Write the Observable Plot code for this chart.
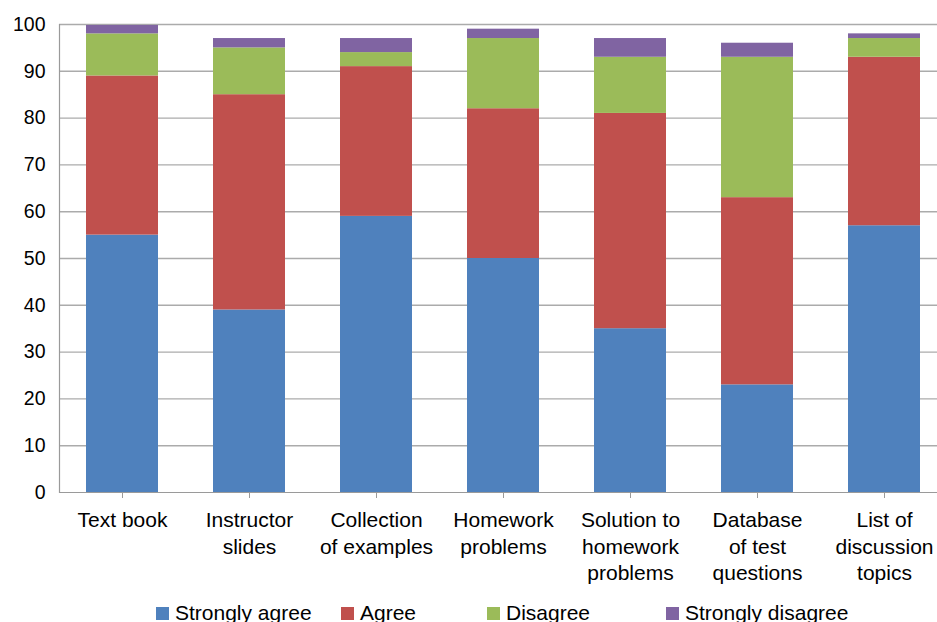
<!DOCTYPE html>
<html>
<head>
<meta charset="utf-8">
<script src="https://cdn.jsdelivr.net/npm/d3@7"></script>
<script src="https://cdn.jsdelivr.net/npm/@observablehq/plot@0.6"></script>
<style>
  html, body { margin: 0; padding: 0; overflow: hidden; background: #fff; }
  #wrap { position: relative; width: 937px; height: 622px; overflow: hidden; }
  #legend { position: absolute; top: 603px; left: 0; width: 937px; height: 20px;
            font-family: "Liberation Sans", Arial, sans-serif; font-size: 21px; color: #000; }
  .item { position: absolute; top: 0; display: flex; align-items: center; white-space: nowrap; line-height: 20px; height: 20px; }
  .sw { width: 13px; height: 13px; margin-right: 6px; }
</style>
</head>
<body>
<div id="wrap"><div id="chart"></div><div id="legend"></div></div>
<script>
const categories = ["Text book", "Instructor slides", "Collection of examples", "Homework problems",
  "Solution to homework problems", "Database of test questions", "List of discussion topics"];
const tickLabels = ["Text book", "Instructor\nslides", "Collection\nof examples", "Homework\nproblems",
  "Solution to\nhomework\nproblems", "Database\nof test\nquestions", "List of\ndiscussion\ntopics"];
const series = ["Strongly agree", "Agree", "Disagree", "Strongly disagree"];
const stronglyAgree    = [55, 39, 59, 50, 35, 23, 57];
const agree            = [34, 46, 32, 32, 46, 40, 36];
const disagree         = [9, 10, 3, 15, 12, 30, 4];
const stronglyDisagree = [1.8, 2, 3, 2, 4, 3, 1];
const colors = ["#4F81BD", "#C0504D", "#9BBB59", "#8064A2"];
const yTicks = [0, 10, 20, 30, 40, 50, 60, 70, 80, 90, 100];

const valuesBySeries = [stronglyAgree, agree, disagree, stronglyDisagree];
const rows = [];
series.forEach((s, si) => categories.forEach((c, ci) => rows.push({category: c, series: s, value: valuesBySeries[si][ci]})));

const chart = Plot.plot({
  width: 937,
  height: 596,
  marginLeft: 59,
  marginRight: 0,
  marginTop: 24,
  marginBottom: 104,
  style: {fontFamily: "'Liberation Sans', Arial, sans-serif", fontSize: "19.5px", color: "#000", background: "#fff"},
  x: {domain: categories, range: [59, 948], paddingInner: 0.433, paddingOuter: 0.2165, label: null},
  y: {domain: [0, 100], label: null},
  color: {domain: series, range: colors},
  marks: [
    Plot.ruleY(yTicks.filter(d => d > 0), {stroke: "#ababab", strokeWidth: 1.4}),
    Plot.barY(rows, {x: "category", y: "value", fill: "series"}),
    Plot.ruleY([0], {stroke: "#9a9a9a", strokeWidth: 1.2}),
    Plot.frame({anchor: "left", stroke: "#9a9a9a", strokeWidth: 1.2}),
    Plot.axisY({ticks: yTicks, tickSize: 0, tickPadding: 14, label: null, fontSize: 19.5}),
    Plot.axisX({tickSize: 6, tickPadding: 10, stroke: "#9a9a9a", lineHeight: 1.26, fontSize: 21, label: null,
      tickFormat: d => tickLabels[categories.indexOf(d)]})
  ]
});
document.getElementById("chart").appendChild(chart);

const legendLeft = [156, 341, 487, 666];
const legend = document.getElementById("legend");
series.forEach((s, i) => {
  const it = document.createElement("div");
  it.className = "item";
  it.style.left = legendLeft[i] + "px";
  it.innerHTML = `<div class="sw" style="background:${colors[i]}"></div><span>${s}</span>`;
  legend.appendChild(it);
});
</script>
</body>
</html>
